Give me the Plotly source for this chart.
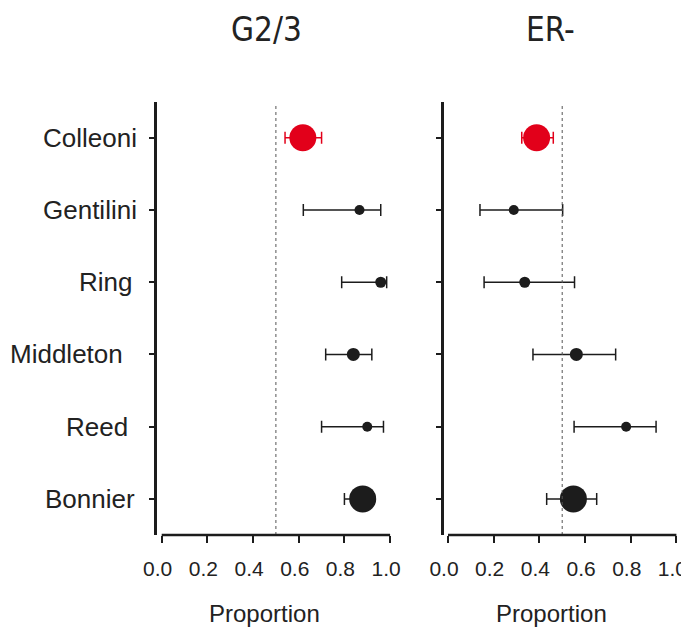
import plotly.graph_objects as go

# ---------------- data ----------------
studies = ["Colleoni", "Gentilini", "Ring", "Middleton", "Reed", "Bonnier"]

g23_prop = [0.618, 0.866, 0.959, 0.839, 0.900, 0.880]
g23_low = [0.540, 0.620, 0.788, 0.718, 0.700, 0.800]
g23_high = [0.700, 0.959, 0.985, 0.920, 0.971, 0.930]

er_prop = [0.388, 0.288, 0.336, 0.562, 0.780, 0.549]
er_low = [0.323, 0.140, 0.158, 0.372, 0.552, 0.432]
er_high = [0.461, 0.502, 0.554, 0.734, 0.911, 0.651]

panel_titles = ["G2/3", "ER-"]
x_ticks = [0.0, 0.2, 0.4, 0.6, 0.8, 1.0]
x_label = "Proportion"
reference_line = 0.5

# ---------------- style ----------------
PAGE_OFF = 8  # default body margin of the html page
W, H = 689 - PAGE_OFF, 629 - PAGE_OFF
FONT = "Liberation Sans, Arial, sans-serif"
TITLE_FONT = "Liberation Sans Narrow, DejaVu Sans Condensed, Liberation Sans, sans-serif"
RED = "#E2001A"
BLACK = "#1c1c1c"
TEXT = "#222222"
marker_px = [27, 10, 11, 13, 10, 27]
point_colors = [RED, BLACK, BLACK, BLACK, BLACK, BLACK]


def px_x(p):
    return (p - PAGE_OFF) / W


def px_y(p):
    return 1 - (p - PAGE_OFF) / H


UNIT = 228.4
y_dom = [px_y(535), px_y(101.7)]
x_doms = [[px_x(157.3), px_x(161.7 + 1.02 * UNIT)],
          [px_x(444.3), px_x(448.0 + 1.02 * UNIT)]]
x_ranges = [[-4.4 / UNIT, 1.02], [-3.7 / UNIT, 1.02]]

fig = go.Figure()

panels = [(g23_prop, g23_low, g23_high), (er_prop, er_low, er_high)]
for k, (prop, low, high) in enumerate(panels):
    xa = "x" if k == 0 else "x2"
    ya = "y" if k == 0 else "y2"
    for i, s in enumerate(studies):
        fig.add_trace(go.Scatter(
            x=[prop[i]], y=[s], xaxis=xa, yaxis=ya, mode="markers",
            marker=dict(size=marker_px[i], color=point_colors[i], line=dict(width=0)),
            error_x=dict(type="data", symmetric=False,
                         array=[high[i] - prop[i]], arrayminus=[prop[i] - low[i]],
                         color=point_colors[i], thickness=1.5, width=6),
            showlegend=False, hoverinfo="skip"))

    # dotted reference line
    fig.add_shape(type="line", xref=xa, yref="paper",
                  x0=reference_line, x1=reference_line, y0=y_dom[0], y1=px_y(104),
                  line=dict(color="#555555", width=1, dash="dot"))
    # x axis line spanning 0..1
    fig.add_shape(type="line", xref=xa, yref="paper",
                  x0=x_ticks[0], x1=x_ticks[-1], y0=y_dom[0], y1=y_dom[0],
                  line=dict(color=BLACK, width=2.5))

axis_common_x = dict(showgrid=False, zeroline=False, showline=False,
                     tickvals=x_ticks, tickformat=".1f", ticks="outside",
                     ticklen=7, tickwidth=2, tickcolor=BLACK,
                     tickfont=dict(family=FONT, size=21, color=TEXT),
                     ticklabelstandoff=8, ticklabelshift=-4,
                     ticklabeloverflow="allow",
                     automargin=False, fixedrange=True)
axis_common_y = dict(showgrid=False, zeroline=False, showline=True, linewidth=2.5,
                     linecolor=BLACK, ticks="outside", ticklen=6, tickwidth=2,
                     tickcolor=BLACK, showticklabels=False, type="category",
                     categoryorder="array", categoryarray=studies,
                     range=[len(studies) - 0.5, -0.5], domain=y_dom,
                     automargin=False, fixedrange=True)

fig.update_layout(
    width=W, height=H, autosize=False, margin=dict(l=0, r=0, t=0, b=0, pad=0),
    paper_bgcolor="white", plot_bgcolor="white",
    xaxis=dict(axis_common_x, domain=x_doms[0], range=x_ranges[0], anchor="y"),
    xaxis2=dict(axis_common_x, domain=x_doms[1], range=x_ranges[1], anchor="y2"),
    yaxis=dict(axis_common_y, anchor="x"),
    yaxis2=dict(axis_common_y, anchor="x2"),
)

# study labels (placed as in the reference)
label_cx = [90, 90, 105, 67, 97, 90]
for i, s in enumerate(studies):
    fig.add_annotation(text=s, xref="paper", yref="y", x=px_x(label_cx[i]), y=s,
                       xanchor="center", yanchor="middle", showarrow=False,
                       font=dict(family=FONT, size=26, color=TEXT))

# panel titles
for cx, t in zip([266, 550], panel_titles):
    fig.add_annotation(text=t, xref="paper", yref="paper", x=px_x(cx), y=px_y(29),
                       xanchor="center", yanchor="middle", showarrow=False,
                       font=dict(family=TITLE_FONT, size=33, color=TEXT))

# x axis titles
for cx in [264, 551]:
    fig.add_annotation(text=x_label, xref="paper", yref="paper", x=px_x(cx), y=px_y(613),
                       xanchor="center", yanchor="middle", showarrow=False,
                       font=dict(family=FONT, size=24, color=TEXT))

fig.write_html("out.html", config={"displayModeBar": False})
